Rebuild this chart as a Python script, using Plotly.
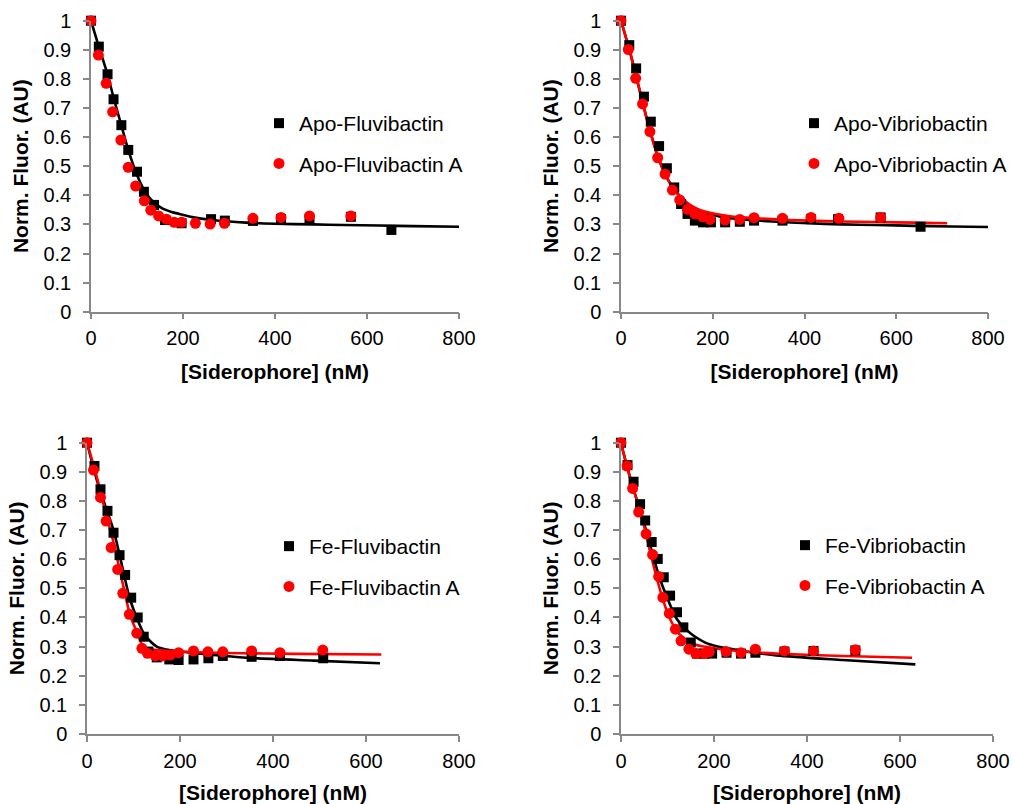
import plotly.graph_objects as go

# ---------------- Data ----------------
# Panel 1: Apo-Fluvibactin
apo_fluv_x = [0, 17, 36, 49, 66, 81, 100, 115, 137, 161, 197, 261, 291, 352, 413, 475, 565, 653]
apo_fluv_y = [1, 0.911, 0.816, 0.730, 0.641, 0.556, 0.481, 0.412, 0.367, 0.315, 0.304, 0.318, 0.313, 0.312, 0.318, 0.317, 0.326, 0.281]
apo_fluvA_x = [0, 16, 33, 47, 65, 81, 97, 116, 130, 147, 164, 181, 197, 227, 259, 290, 352, 413, 475, 565]
apo_fluvA_y = [1, 0.882, 0.785, 0.687, 0.590, 0.496, 0.432, 0.381, 0.349, 0.329, 0.318, 0.307, 0.307, 0.304, 0.301, 0.304, 0.321, 0.324, 0.329, 0.329]
fit_apo_fluv_x = [0, 17, 36, 50, 66, 81, 100, 119, 135, 155, 175, 192, 220, 264, 337, 400, 482, 550, 627, 700, 800]
fit_apo_fluv_y = [1, 0.91, 0.815, 0.73, 0.64, 0.556, 0.47, 0.409, 0.378, 0.355, 0.343, 0.336, 0.325, 0.315, 0.306, 0.302, 0.300, 0.298, 0.296, 0.294, 0.292]

# Panel 2: Apo-Vibriobactin
apo_vib_x = [0, 18, 33, 50, 65, 83, 100, 116, 131, 145, 161, 179, 196, 227, 259, 290, 352, 414, 473, 566, 653]
apo_vib_y = [1, 0.916, 0.836, 0.739, 0.653, 0.569, 0.493, 0.427, 0.370, 0.336, 0.313, 0.307, 0.307, 0.307, 0.309, 0.313, 0.313, 0.318, 0.318, 0.324, 0.292]
apo_vibA_x = [0, 16, 32, 47, 63, 80, 96, 112, 128, 145, 161, 178, 194, 227, 259, 290, 352, 414, 475, 566]
apo_vibA_y = [1, 0.901, 0.802, 0.714, 0.619, 0.529, 0.473, 0.418, 0.384, 0.352, 0.336, 0.326, 0.317, 0.315, 0.317, 0.323, 0.321, 0.324, 0.321, 0.324]
fit_apo_vib_x = [0, 20, 40, 60, 80, 100, 121, 140, 157, 175, 194, 230, 264, 330, 409, 480, 556, 640, 720, 800]
fit_apo_vib_y = [1, 0.89, 0.765, 0.64, 0.535, 0.46, 0.41, 0.378, 0.358, 0.344, 0.335, 0.323, 0.317, 0.310, 0.304, 0.300, 0.298, 0.295, 0.293, 0.291]
fit_apo_vibA_x = [0, 20, 40, 60, 80, 100, 121, 140, 157, 175, 194, 230, 264, 330, 409, 480, 556, 640, 711]
fit_apo_vibA_y = [1, 0.89, 0.765, 0.64, 0.535, 0.46, 0.41, 0.38, 0.361, 0.348, 0.340, 0.330, 0.324, 0.318, 0.313, 0.310, 0.308, 0.306, 0.304]

# Panel 3: Fe-Fluvibactin
fe_fluv_x = [0, 16, 29, 44, 57, 70, 82, 95, 109, 122, 132, 150, 177, 197, 229, 261, 292, 354, 415, 508]
fe_fluv_y = [1, 0.920, 0.840, 0.766, 0.691, 0.614, 0.546, 0.468, 0.400, 0.334, 0.283, 0.263, 0.256, 0.254, 0.256, 0.260, 0.268, 0.265, 0.268, 0.260]
fe_fluvA_x = [0, 14, 29, 41, 52, 66, 77, 91, 107, 118, 130, 147, 163, 179, 197, 229, 260, 292, 354, 415, 507]
fe_fluvA_y = [1, 0.906, 0.812, 0.731, 0.640, 0.565, 0.483, 0.411, 0.346, 0.294, 0.277, 0.268, 0.268, 0.271, 0.279, 0.285, 0.282, 0.282, 0.285, 0.279, 0.288]
fit_fe_fluv_x = [0, 21.5, 40, 57, 75, 93, 122, 135, 150, 170, 200, 272, 343, 487, 630]
fit_fe_fluv_y = [1, 0.87, 0.78, 0.70, 0.58, 0.46, 0.345, 0.32, 0.30, 0.29, 0.283, 0.271, 0.262, 0.252, 0.243]
fit_fe_fluvA_x = [0, 21.5, 40, 57, 75, 93, 107, 121.6, 135, 150, 175, 200, 300, 450, 633]
fit_fe_fluvA_y = [1, 0.88, 0.76, 0.658, 0.53, 0.406, 0.351, 0.30, 0.292, 0.288, 0.285, 0.283, 0.278, 0.275, 0.273]

# Panel 4: Fe-Vibriobactin
fe_vib_x = [0, 14, 27, 41, 52, 66, 79, 92, 105.5, 120.5, 134, 150, 163, 179, 196, 227, 258, 289, 351.5, 414, 504]
fe_vib_y = [1, 0.923, 0.866, 0.789, 0.733, 0.659, 0.601, 0.538, 0.475, 0.418, 0.366, 0.314, 0.276, 0.276, 0.276, 0.279, 0.276, 0.279, 0.283, 0.285, 0.287]
fe_vibA_x = [0, 13, 25, 38, 54, 68, 81, 90, 104, 117, 129, 146, 161, 179, 190, 226, 258, 289, 351.5, 414, 504]
fe_vibA_y = [1, 0.920, 0.843, 0.762, 0.687, 0.616, 0.541, 0.469, 0.414, 0.360, 0.320, 0.291, 0.276, 0.276, 0.282, 0.283, 0.279, 0.291, 0.285, 0.285, 0.289]
fit_fe_vib_x = [0, 11, 25, 46.6, 65, 82.5, 100, 118, 136, 154, 190, 262, 334, 477, 633]
fit_fe_vib_y = [1, 0.93, 0.85, 0.74, 0.635, 0.538, 0.465, 0.40, 0.365, 0.34, 0.308, 0.285, 0.27, 0.254, 0.239]
fit_fe_vibA_x = [0, 11, 25, 46.6, 65, 82.5, 104, 125.5, 154, 190, 262, 334, 477, 626]
fit_fe_vibA_y = [1, 0.93, 0.85, 0.733, 0.61, 0.503, 0.40, 0.343, 0.31, 0.297, 0.283, 0.276, 0.268, 0.262]

x_ticks = [0, 200, 400, 600, 800]
y_ticks = [0, 0.1, 0.2, 0.3, 0.4, 0.5, 0.6, 0.7, 0.8, 0.9, 1]

W, H = 1013, 804
FONT = "Liberation Sans, Arial, sans-serif"
BLACK = "#000000"
RED = "#ff0000"
AXIS_GRAY = "#888888"

panels = [
    dict(ax="", legend="legend", names=("Apo-Fluvibactin", "Apo-Fluvibactin A"),
         sq=(apo_fluv_x, apo_fluv_y), ci=(apo_fluvA_x, apo_fluvA_y),
         fits=[(fit_apo_fluv_x, fit_apo_fluv_y, BLACK)],
         xdom=(91, 459), ydom=(20.7, 311.7), leg=(259, 103)),
    dict(ax="2", legend="legend2", names=("Apo-Vibriobactin", "Apo-Vibriobactin A"),
         sq=(apo_vib_x, apo_vib_y), ci=(apo_vibA_x, apo_vibA_y),
         fits=[(fit_apo_vib_x, fit_apo_vib_y, BLACK), (fit_apo_vibA_x, fit_apo_vibA_y, RED)],
         xdom=(621, 988), ydom=(20.7, 311.7), leg=(794, 103)),
    dict(ax="3", legend="legend3", names=("Fe-Fluvibactin", "Fe-Fluvibactin A"),
         sq=(fe_fluv_x, fe_fluv_y), ci=(fe_fluvA_x, fe_fluvA_y),
         fits=[(fit_fe_fluv_x, fit_fe_fluv_y, BLACK), (fit_fe_fluvA_x, fit_fe_fluvA_y, RED)],
         xdom=(87, 459), ydom=(442.7, 734), leg=(269, 526)),
    dict(ax="4", legend="legend4", names=("Fe-Vibriobactin", "Fe-Vibriobactin A"),
         sq=(fe_vib_x, fe_vib_y), ci=(fe_vibA_x, fe_vibA_y),
         fits=[(fit_fe_vib_x, fit_fe_vib_y, BLACK), (fit_fe_vibA_x, fit_fe_vibA_y, RED)],
         xdom=(621, 993), ydom=(442.7, 734), leg=(785, 525)),
]

fig = go.Figure()
layout = dict(
    width=W, height=H,
    margin=dict(l=0, r=0, t=0, b=0),
    paper_bgcolor="white", plot_bgcolor="white",
    font=dict(family=FONT, size=20, color="black"),
    showlegend=True,
)

for i, p in enumerate(panels):
    xa = "x" + p["ax"]
    ya = "y" + p["ax"]
    for fx, fy, col in p["fits"]:
        fig.add_trace(go.Scatter(x=fx, y=fy, mode="lines", xaxis=xa, yaxis=ya,
                                 line=dict(color=col, width=2.6, shape="spline", smoothing=0.8),
                                 showlegend=False, hoverinfo="skip", cliponaxis=False))
    fig.add_trace(go.Scatter(x=p["sq"][0], y=p["sq"][1], mode="markers", xaxis=xa, yaxis=ya,
                             name=p["names"][0], legend=p["legend"], legendgroup=f"g{i}a",
                             marker=dict(symbol="square", size=10, color=BLACK),
                             cliponaxis=False))
    fig.add_trace(go.Scatter(x=p["ci"][0], y=p["ci"][1], mode="markers", xaxis=xa, yaxis=ya,
                             name=p["names"][1], legend=p["legend"], legendgroup=f"g{i}b",
                             marker=dict(symbol="circle", size=11, color=RED),
                             cliponaxis=False))

    x0, x1 = p["xdom"]
    y0, y1 = p["ydom"]
    common = dict(showline=True, linecolor=AXIS_GRAY, linewidth=1.5,
                  ticks="outside", ticklen=6, tickwidth=1.5, tickcolor=AXIS_GRAY,
                  showgrid=False, zeroline=False, automargin=False,
                  tickfont=dict(family=FONT, size=20, color="black"))
    layout["xaxis" + p["ax"]] = dict(
        domain=[x0 / W, x1 / W], range=[0, 800], tickvals=x_ticks,
        anchor=ya, ticklabelstandoff=2,
        title=dict(text="<b>[Siderophore] (nM)</b>", standoff=16,
                   font=dict(family=FONT, size=21, color="black")),
        **common)
    layout["yaxis" + p["ax"]] = dict(
        domain=[1 - y1 / H, 1 - y0 / H], range=[0, 1], tickvals=y_ticks,
        anchor=xa, ticklabelstandoff=8,
        title=dict(text="<b>Norm. Fluor. (AU)</b>", standoff=9,
                   font=dict(family=FONT, size=21, color="black")),
        **common)
    lx, ly = p["leg"]
    layout[p["legend"]] = dict(
        x=lx / W, y=1 - ly / H, xanchor="left", yanchor="top",
        bgcolor="rgba(0,0,0,0)", borderwidth=0,
        font=dict(family=FONT, size=21, color="black"),
        tracegroupgap=10, traceorder="grouped", itemwidth=30)

fig.update_layout(**layout)
fig.write_html("out.html")
